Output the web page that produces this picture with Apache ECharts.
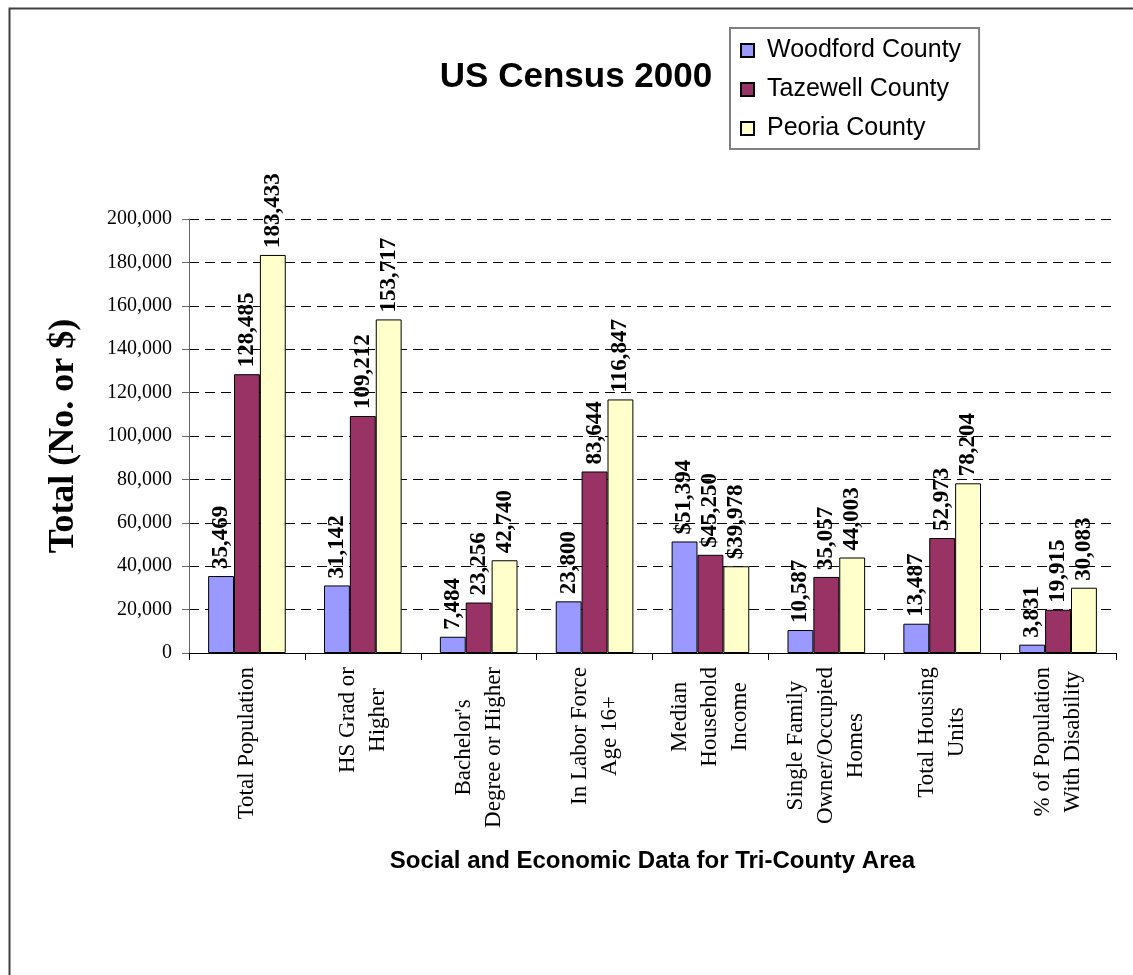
<!DOCTYPE html>
<html>
<head>
<meta charset="utf-8">
<title>US Census 2000</title>
<script src="https://cdn.jsdelivr.net/npm/echarts@6/dist/echarts.min.js"></script>
<style>
    html, body { margin: 0; padding: 0; background: #fff; }
    #main { width: 1133px; height: 975px; }
</style>
</head>
<body>
<div id="main"></div>
<script>
var categories = [
    'Total Population',
    'HS Grad or\nHigher',
    "Bachelor's\nDegree or Higher",
    'In Labor Force\nAge 16+',
    'Median\nHousehold\nIncome',
    'Single Family\nOwner/Occupied\nHomes',
    'Total Housing\nUnits',
    '% of Population\nWith Disability'
];
var woodford = [35469, 31142, 7484, 23800, 51394, 10587, 13487, 3831];
var tazewell = [128485, 109212, 23256, 83644, 45250, 35057, 52973, 19915];
var peoria = [183433, 153717, 42740, 116847, 39978, 44003, 78204, 30083];
var moneyIndex = 4; // Median Household Income is in dollars

var serif = '"Liberation Serif", "Times New Roman", serif';
var sans = '"Liberation Sans", Arial, sans-serif';

function commas(n) {
    return String(n).replace(/\B(?=(\d{3})+(?!\d))/g, ',');
}

function barLabel() {
    return {
        show: true,
        position: 'top',
        rotate: 90,
        align: 'left',
        verticalAlign: 'middle',
        distance: 7,
        fontFamily: serif,
        fontWeight: 'bold',
        fontSize: 23,
        color: '#000',
        formatter: function (p) {
            return (p.dataIndex === moneyIndex ? '$' : '') + commas(p.value);
        }
    };
}

function makeSeries(name, data, color) {
    return {
        name: name,
        type: 'bar',
        data: data,
        barGap: 0,
        barCategoryGap: '33%',
        itemStyle: { color: color, borderColor: '#000', borderWidth: 1 },
        label: barLabel(),
        emphasis: { disabled: true }
    };
}

var option = {
    backgroundColor: '#fff',
    animation: false,
    title: {
        text: 'US Census 2000',
        left: 571,
        textAlign: 'center',
        top: 55,
        textStyle: { fontFamily: sans, fontWeight: 'bold', fontSize: 35, color: '#000' }
    },
    legend: {
        orient: 'vertical',
        left: 730,
        top: 28,
        padding: [10, 18, 8, 10],
        borderColor: '#808080',
        borderWidth: 2,
        itemWidth: 13,
        itemHeight: 13,
        itemGap: 14,
        icon: 'rect',
        textStyle: { fontFamily: sans, fontSize: 25, color: '#000', padding: [0, 0, 0, 8] },
        data: ['Woodford County', 'Tazewell County', 'Peoria County']
    },
    graphic: [{
        type: 'rect',
        left: 7,
        top: 6,
        shape: { width: 1200, height: 1100 },
        style: { fill: 'none', stroke: '#404040', lineWidth: 2 },
        silent: true
    }],
    grid: {
        left: 189,
        top: 219,
        width: 927,
        height: 434
    },
    xAxis: {
        type: 'category',
        data: categories,
        name: 'Social and Economic Data for Tri-County Area',
        nameLocation: 'middle',
        nameGap: 196,
        nameTextStyle: { fontFamily: sans, fontWeight: 'bold', fontSize: 24, color: '#000' },
        axisLine: { lineStyle: { color: '#000', width: 1 } },
        axisTick: { show: true, length: 7, lineStyle: { color: '#000' } },
        axisLabel: {
            interval: 0,
            rotate: 90,
            margin: 14,
            color: '#000',
            fontFamily: serif,
            fontSize: 23,
            lineHeight: 30,
            formatter: function (v) {
                return v.split('\n').map(function (s) { return '{c|' + s + '}'; }).join('\n');
            },
            rich: {
                c: { align: 'center', fontFamily: serif, fontSize: 23, lineHeight: 30, color: '#000' }
            }
        }
    },
    yAxis: {
        type: 'value',
        min: 0,
        max: 200000,
        interval: 20000,
        name: 'Total (No. or $)',
        nameLocation: 'middle',
        nameRotate: 90,
        nameGap: 107,
        nameTextStyle: { fontFamily: serif, fontWeight: 'bold', fontSize: 36, color: '#000' },
        axisLine: { show: true, lineStyle: { color: '#666', width: 1 } },
        axisTick: { show: true, length: 7, lineStyle: { color: '#666' } },
        axisLabel: {
            margin: 17,
            color: '#000',
            fontFamily: serif,
            fontSize: 20,
            formatter: function (v) { return commas(v); }
        },
        splitLine: { lineStyle: { color: '#000', type: [10, 6], width: 1 } }
    },
    series: [
        makeSeries('Woodford County', woodford, '#9999FF'),
        makeSeries('Tazewell County', tazewell, '#993366'),
        makeSeries('Peoria County', peoria, '#FFFFCC')
    ]
};

var myChart = echarts.init(document.getElementById('main'));
myChart.setOption(option);
</script>
</body>
</html>
